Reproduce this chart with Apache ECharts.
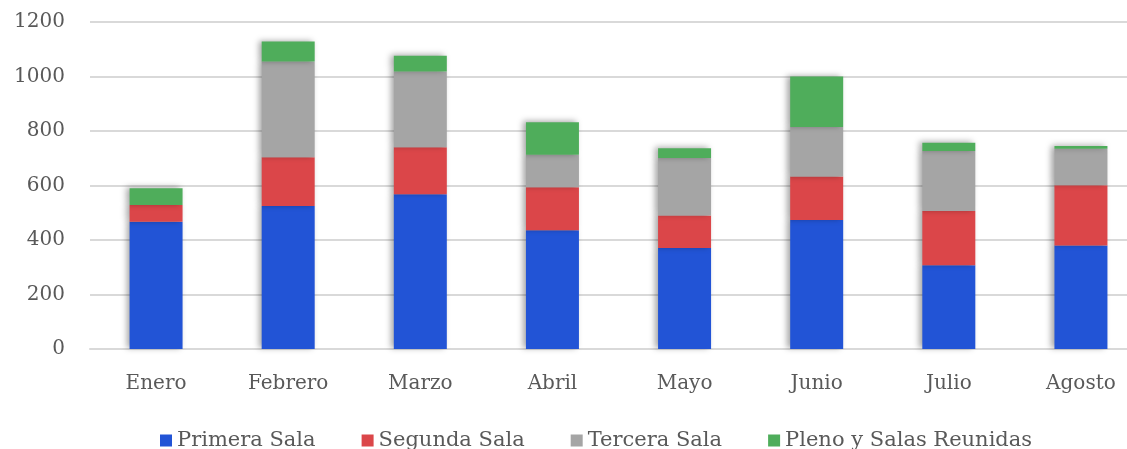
<!DOCTYPE html>
<html>
<head>
<meta charset="utf-8">
<script src="https://cdn.jsdelivr.net/npm/echarts@6/dist/echarts.min.js"></script>
<style>
  html, body { margin: 0; padding: 0; background: #fff; overflow: hidden; }
  #chart { width: 1147px; height: 449px; }
</style>
</head>
<body>
<div id="chart"></div>
<script>
"use strict";

// datos
var meses = ['Enero', 'Febrero', 'Marzo', 'Abril', 'Mayo', 'Junio', 'Julio', 'Agosto'];
var primeraSala = [467, 525, 568, 436, 371, 473, 307, 380];
var segundaSala = [61, 179, 172, 158, 119, 160, 199, 221];
var terceraSala = [0, 351, 278, 119, 211, 182, 221, 134];
var plenoSalas = [62, 73, 58, 119, 36, 185, 30, 10];
var yTicks = { min: 0, max: 1200, interval: 200 };

var fuente = '"DejaVu Serif", serif';
var gris = '#595959';

function serie(nombre, datos, color) {
	return {
		name: nombre,
		type: 'bar',
		stack: 'total',
		data: datos,
		barWidth: 53,
		itemStyle: {
			color: color,
			shadowColor: 'rgba(0,0,0,0.35)',
			shadowBlur: 6,
			shadowOffsetX: -3,
			shadowOffsetY: -1
		}
	};
}

var chart = echarts.init(document.getElementById('chart'));
chart.setOption({
	animation: false,
	grid: { left: 90, right: 0, top: 22, bottom: 100 },
	legend: {
		top: 425,
		left: 155,
		itemWidth: 12,
		itemHeight: 12,
		itemGap: 46,
		icon: 'rect',
		textStyle: { color: gris, fontFamily: fuente, fontSize: 21 }
	},
	xAxis: {
		type: 'category',
		data: meses,
		axisLine: { lineStyle: { color: '#d9d9d9', width: 2 } },
		axisTick: { show: false },
		axisLabel: { color: gris, fontFamily: fuente, fontSize: 20, margin: 25 }
	},
	yAxis: {
		type: 'value',
		min: yTicks.min,
		max: yTicks.max,
		interval: yTicks.interval,
		axisLine: { show: false },
		axisTick: { show: false },
		axisLabel: {
			color: gris, fontFamily: fuente, fontSize: 20, margin: 25,
			formatter: function (v) { return String(v); }
		},
		splitLine: { lineStyle: { color: '#d9d9d9', width: 2 } }
	},
	series: [
		serie('Primera Sala', primeraSala, '#2254d6'),
		serie('Segunda Sala', segundaSala, '#db4649'),
		serie('Tercera Sala', terceraSala, '#a5a5a5'),
		serie('Pleno y Salas Reunidas', plenoSalas, '#4fad5b')
	]
});
</script>
</body>
</html>
